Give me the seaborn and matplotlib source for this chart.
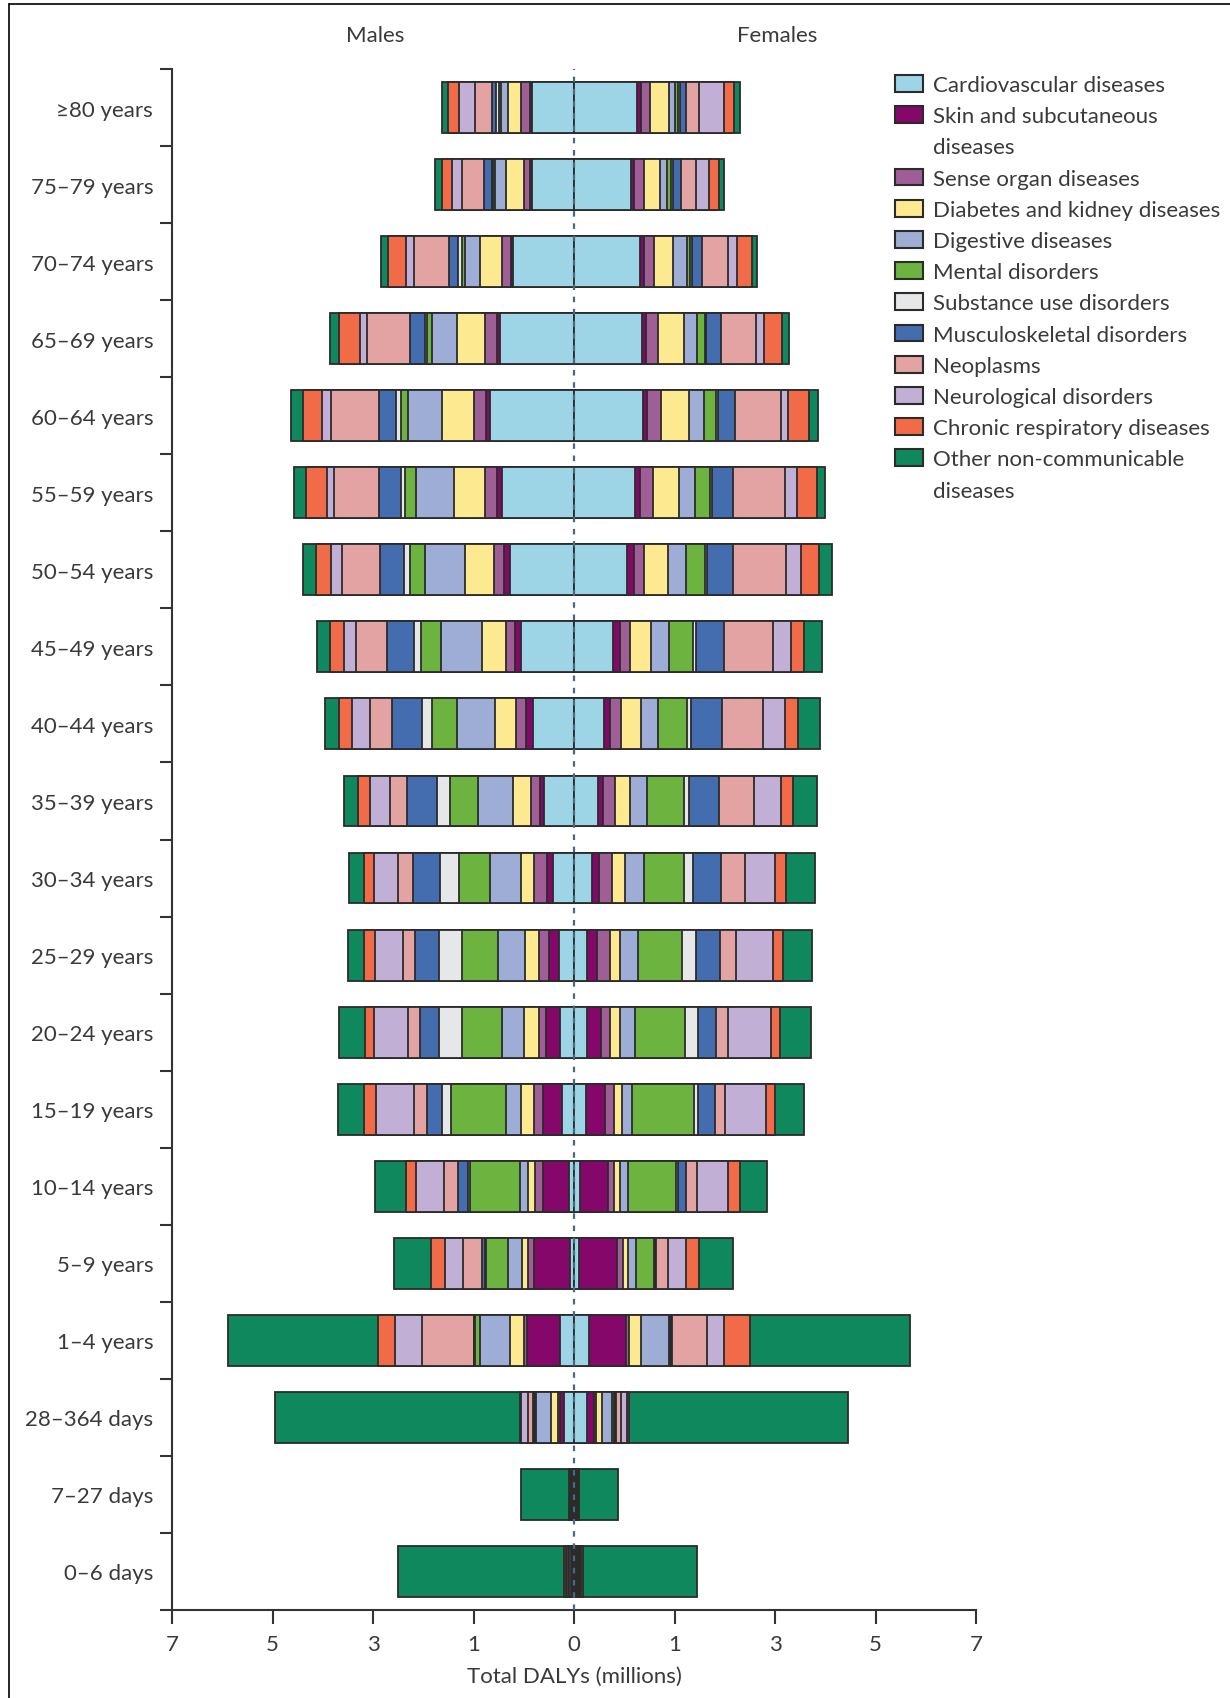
import matplotlib
matplotlib.use("Agg")
import matplotlib.pyplot as plt
from matplotlib.patches import Patch
from matplotlib.lines import Line2D
import numpy as np
import pandas as pd
import seaborn as sns

sns.set_theme(style="ticks")
plt.rcParams['font.family'] = ['Lato', 'DejaVu Sans']

# Age groups, top to bottom
ages = ["≥80 years", "75–79 years", "70–74 years", "65–69 years", "60–64 years",
        "55–59 years", "50–54 years", "45–49 years", "40–44 years", "35–39 years",
        "30–34 years", "25–29 years", "20–24 years", "15–19 years", "10–14 years",
        "5–9 years", "1–4 years", "28–364 days", "7–27 days", "0–6 days"]

categories = ["Cardiovascular diseases", "Skin and subcutaneous\ndiseases",
              "Sense organ diseases", "Diabetes and kidney diseases",
              "Digestive diseases", "Mental disorders", "Substance use disorders",
              "Musculoskeletal disorders", "Neoplasms", "Neurological disorders",
              "Chronic respiratory diseases", "Other non-communicable\ndiseases"]

colors = ["#9dd5e6", "#86076a", "#a05e97", "#fde98f", "#9eadd6", "#6cb33f",
          "#e6e7e8", "#446db0", "#e3a3a2", "#c1afd5", "#f26b49", "#10885e"]

# Males: DALYs per cause and age group (axis units)
m_cardio = [0.419, 0.419, 0.604, 0.739, 0.838, 0.716, 0.635, 0.523, 0.41, 0.297, 0.207, 0.153, 0.14, 0.117, 0.05, 0.041, 0.14, 0.095, 0.008, 0.012]
m_skin = [0.014, 0.014, 0.018, 0.032, 0.036, 0.054, 0.059, 0.068, 0.068, 0.045, 0.059, 0.099, 0.135, 0.189, 0.257, 0.36, 0.324, 0.045, 0.004, 0.006]
m_sense = [0.09, 0.068, 0.09, 0.113, 0.117, 0.113, 0.099, 0.09, 0.104, 0.09, 0.135, 0.099, 0.077, 0.095, 0.081, 0.054, 0.036, 0.023, 0.003, 0.004]
m_diabetes = [0.135, 0.18, 0.225, 0.279, 0.32, 0.315, 0.293, 0.234, 0.203, 0.171, 0.131, 0.135, 0.149, 0.131, 0.068, 0.059, 0.135, 0.068, 0.004, 0.008]
m_digestive = [0.068, 0.104, 0.149, 0.252, 0.338, 0.374, 0.392, 0.405, 0.383, 0.356, 0.306, 0.275, 0.212, 0.149, 0.081, 0.144, 0.302, 0.144, 0.008, 0.015]
m_mental = [0.023, 0.018, 0.032, 0.045, 0.077, 0.108, 0.149, 0.207, 0.248, 0.275, 0.306, 0.356, 0.405, 0.541, 0.495, 0.216, 0.045, 0.014, 0.001, 0.002]
m_substance = [0.023, 0.014, 0.036, 0.023, 0.05, 0.045, 0.068, 0.068, 0.099, 0.131, 0.189, 0.225, 0.225, 0.09, 0.018, 0.009, 0.009, 0.009, 0.001, 0.002]
m_musculo = [0.045, 0.077, 0.09, 0.144, 0.162, 0.212, 0.239, 0.266, 0.293, 0.293, 0.27, 0.239, 0.185, 0.149, 0.104, 0.036, 0.009, 0.009, 0.002, 0.004]
m_neoplasms = [0.171, 0.216, 0.351, 0.428, 0.477, 0.45, 0.378, 0.306, 0.225, 0.171, 0.149, 0.122, 0.122, 0.135, 0.144, 0.189, 0.514, 0.05, 0.006, 0.012]
m_neuro = [0.153, 0.104, 0.077, 0.077, 0.09, 0.072, 0.104, 0.122, 0.171, 0.203, 0.234, 0.279, 0.338, 0.378, 0.275, 0.18, 0.27, 0.068, 0.006, 0.014]
m_respiratory = [0.117, 0.099, 0.18, 0.203, 0.189, 0.207, 0.149, 0.14, 0.131, 0.113, 0.099, 0.104, 0.09, 0.113, 0.099, 0.135, 0.171, 0.009, 0.007, 0.016]
m_other = [0.054, 0.068, 0.068, 0.09, 0.117, 0.117, 0.135, 0.131, 0.14, 0.144, 0.158, 0.162, 0.257, 0.261, 0.306, 0.369, 1.486, 2.446, 0.482, 1.658]

# Females
f_cardio = [0.626, 0.572, 0.658, 0.68, 0.685, 0.604, 0.527, 0.392, 0.297, 0.234, 0.176, 0.131, 0.131, 0.117, 0.063, 0.05, 0.153, 0.131, 0.008, 0.011]
f_skin = [0.036, 0.023, 0.036, 0.032, 0.045, 0.054, 0.068, 0.068, 0.059, 0.054, 0.077, 0.099, 0.135, 0.194, 0.279, 0.374, 0.36, 0.068, 0.004, 0.005]
f_sense = [0.099, 0.099, 0.099, 0.126, 0.135, 0.126, 0.099, 0.099, 0.113, 0.122, 0.126, 0.126, 0.09, 0.09, 0.059, 0.059, 0.036, 0.023, 0.003, 0.004]
f_diabetes = [0.18, 0.158, 0.194, 0.252, 0.279, 0.257, 0.239, 0.203, 0.194, 0.149, 0.126, 0.104, 0.104, 0.081, 0.054, 0.054, 0.122, 0.059, 0.004, 0.007]
f_digestive = [0.068, 0.077, 0.135, 0.135, 0.149, 0.162, 0.18, 0.18, 0.176, 0.171, 0.189, 0.176, 0.144, 0.099, 0.081, 0.077, 0.27, 0.099, 0.008, 0.014]
f_mental = [0.023, 0.036, 0.036, 0.077, 0.122, 0.153, 0.189, 0.239, 0.284, 0.36, 0.396, 0.441, 0.505, 0.617, 0.482, 0.18, 0.014, 0.014, 0.001, 0.002]
f_substance = [0.023, 0.018, 0.018, 0.014, 0.014, 0.014, 0.023, 0.032, 0.045, 0.054, 0.099, 0.135, 0.126, 0.036, 0.014, 0.014, 0.009, 0.009, 0.001, 0.002]
f_musculo = [0.059, 0.081, 0.095, 0.144, 0.176, 0.216, 0.257, 0.279, 0.306, 0.302, 0.27, 0.239, 0.18, 0.167, 0.081, 0.009, 0.014, 0.014, 0.002, 0.004]
f_neoplasms = [0.131, 0.149, 0.257, 0.347, 0.45, 0.518, 0.532, 0.486, 0.405, 0.342, 0.239, 0.158, 0.122, 0.104, 0.108, 0.117, 0.347, 0.054, 0.006, 0.011]
f_neuro = [0.248, 0.135, 0.09, 0.081, 0.072, 0.113, 0.144, 0.18, 0.225, 0.27, 0.302, 0.369, 0.419, 0.405, 0.315, 0.176, 0.171, 0.059, 0.007, 0.012]
f_respiratory = [0.104, 0.09, 0.158, 0.18, 0.212, 0.198, 0.18, 0.135, 0.122, 0.122, 0.113, 0.104, 0.09, 0.09, 0.113, 0.135, 0.257, 0.014, 0.01, 0.014]
f_other = [0.054, 0.059, 0.045, 0.068, 0.09, 0.081, 0.126, 0.171, 0.225, 0.239, 0.284, 0.288, 0.315, 0.293, 0.27, 0.342, 1.586, 2.18, 0.387, 1.14]

x_tick_pos = [-4, -3, -2, -1, 0, 1, 2, 3, 4]
x_tick_labels = ["7", "5", "3", "1", "0", "1", "3", "5", "7"]

male_parts = [m_cardio, m_skin, m_sense, m_diabetes, m_digestive, m_mental,
              m_substance, m_musculo, m_neoplasms, m_neuro, m_respiratory, m_other]
female_parts = [f_cardio, f_skin, f_sense, f_diabetes, f_digestive, f_mental,
                f_substance, f_musculo, f_neoplasms, f_neuro, f_respiratory, f_other]

TEXT = "#3a3a3a"
EDGE = "#2b2b2b"
FS = 16

W, H = 1230, 1699
fig = plt.figure(figsize=(W / 100, H / 100), dpi=100)
ax = fig.add_axes([172 / W, 88 / H, 804 / W, 1541 / H])

# Stacked bars: draw cumulative totals from the outermost cause inwards
for sign, parts in ((-1, male_parts), (1, female_parts)):
    cum = np.cumsum(np.array(parts), axis=0)
    for k in range(len(parts) - 1, -1, -1):
        df = pd.DataFrame({"age": ages, "dalys": sign * cum[k]})
        sns.barplot(data=df, x="dalys", y="age", order=ages, orient="h",
                    color=colors[k], saturation=1, width=0.66,
                    edgecolor=EDGE, linewidth=1.3, errorbar=None, ax=ax)

ax.axvline(0, color="#4a6a7c", lw=1.6, ls=(0, (2.5, 3)), zorder=5)

ax.set_xlim(-4, 4)
ax.set_ylim(19.5, -0.5)
ax.set_xticks(x_tick_pos)
ax.set_xticklabels(x_tick_labels, fontsize=FS, color=TEXT)
ax.set_yticks(range(len(ages)))
ax.set_yticklabels(ages, fontsize=FS, color=TEXT)
ax.set_yticks(np.arange(-0.5, len(ages), 1.0), minor=True)
ax.tick_params(axis="y", which="major", length=0, pad=13.5)
ax.tick_params(axis="y", which="minor", length=9, width=1.5, color="#333333", direction="out")
ax.tick_params(axis="x", which="major", length=10, width=1.5, color="#333333", direction="out", pad=7)
ax.set_xlabel("Total DALYs (millions)", fontsize=FS, color=TEXT, labelpad=9)
ax.set_ylabel("")
for side in ("top", "right"):
    ax.spines[side].set_visible(False)
for side in ("left", "bottom"):
    ax.spines[side].set_color("#333333")
    ax.spines[side].set_linewidth(1.5)

fig.text(375 / W, 1 - 36 / H, "Males", ha="center", va="center", fontsize=FS, color=TEXT)
fig.text(777 / W, 1 - 36 / H, "Females", ha="center", va="center", fontsize=FS, color=TEXT)

# Legend, with wrapped label lines placed as their own rows
handles, labels = [], []
for name, col in zip(categories, colors):
    lines = name.split("\n")
    handles.append(Patch(facecolor=col, edgecolor=EDGE, linewidth=1.5))
    labels.append(lines[0])
    for extra in lines[1:]:
        handles.append(Patch(facecolor="none", edgecolor="none"))
        labels.append(extra)
leg = fig.legend(handles, labels, loc="upper left", bbox_to_anchor=(895 / W, 1 - 76 / H),
                 frameon=False, fontsize=FS, handlelength=1.28, handleheight=0.78,
                 handletextpad=0.45, labelspacing=0.5, borderaxespad=0, borderpad=0)
for t in leg.get_texts():
    t.set_color(TEXT)

# Outer frame
fig.add_artist(Line2D([9 / W, 9 / W], [0, 1 - 5 / H], transform=fig.transFigure, color="black", lw=1.2))
fig.add_artist(Line2D([9 / W, 1], [1 - 5 / H, 1 - 5 / H], transform=fig.transFigure, color="black", lw=1.2))

fig.savefig("out.png", dpi=100)
